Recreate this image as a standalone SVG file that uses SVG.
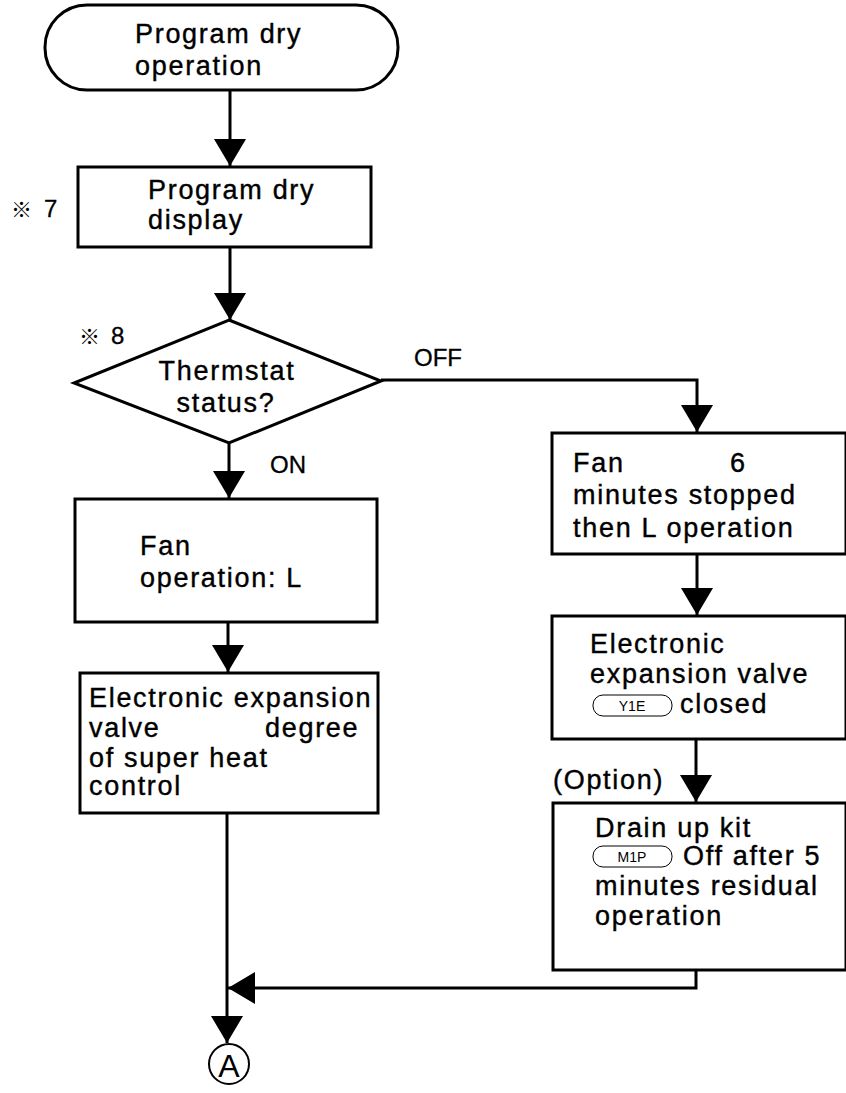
<svg xmlns="http://www.w3.org/2000/svg" width="846" height="1093" viewBox="0 0 846 1093">
<style>
.t{font-family:"Liberation Sans",Arial,sans-serif;font-size:27px;letter-spacing:1.7px;fill:#000;stroke:#000;stroke-width:0.4}
.n{font-family:"Liberation Sans",Arial,sans-serif;font-size:24px;fill:#000;stroke:#000;stroke-width:0.3}
.k{font-family:"Noto Sans CJK JP",sans-serif;font-size:21px;fill:#000}
.s{fill:#fff;stroke:#000;stroke-width:3}
.c{fill:none;stroke:#000;stroke-width:3}
.p{fill:#fff;stroke:#000;stroke-width:1}
.pt{font-family:"Liberation Sans",Arial,sans-serif;font-size:14px;fill:#000;text-anchor:middle}
</style>
<defs>
<marker id="ah" viewBox="0 0 27 32" refX="27" refY="16" markerWidth="27" markerHeight="32" markerUnits="userSpaceOnUse" orient="auto">
<path d="M0,0 L27,16 L0,32 Z" fill="#000"/>
</marker>
</defs>
<g id="connectors">
<path class="c" d="M230,90 V166" marker-end="url(#ah)"/>
<path class="c" d="M230,247 V320" marker-end="url(#ah)"/>
<path class="c" d="M229,443 V498" marker-end="url(#ah)"/>
<path class="c" d="M228,622 V672" marker-end="url(#ah)"/>
<path class="c" d="M381,380 H697 V432" marker-end="url(#ah)"/>
<path class="c" d="M697,554 V615" marker-end="url(#ah)"/>
<path class="c" d="M696,739 V802" marker-end="url(#ah)"/>
<path class="c" d="M696,970 V988 H228" marker-end="url(#ah)"/>
<path class="c" d="M227,813 V1043" marker-end="url(#ah)"/>
</g>
<g id="start">
<rect class="s" x="45" y="5" width="353" height="85" rx="42" ry="42"/>
<text class="t" x="135" y="43">Program dry</text>
<text class="t" x="135" y="75">operation</text>
</g>
<g id="display">
<rect class="s" x="78" y="167" width="293" height="80"/>
<text class="t" x="148" y="199">Program dry</text>
<text class="t" x="148" y="229">display</text>
<text class="k" x="11" y="217">※</text>
<text class="n" x="44" y="217">7</text>
</g>
<g id="thermostat">
<polygon class="s" points="229,320 381,381 229,443 74,383"/>
<text class="t" x="227" y="380" text-anchor="middle">Thermstat</text>
<text class="t" x="226" y="412" text-anchor="middle">status?</text>
<text class="k" x="79" y="344">※</text>
<text class="n" x="111" y="344">8</text>
<text class="n" x="414" y="366">OFF</text>
<text class="n" x="270" y="473">ON</text>
</g>
<g id="fan-l">
<rect class="s" x="75" y="499" width="302" height="123"/>
<text class="t" x="140" y="555">Fan</text>
<text class="t" x="140" y="587">operation: L</text>
</g>
<g id="superheat">
<rect class="s" x="80" y="673" width="298" height="140"/>
<text class="t" x="89" y="707">Electronic expansion</text>
<text class="t" x="89" y="737">valve</text>
<text class="t" x="265" y="737">degree</text>
<text class="t" x="89" y="767">of super heat</text>
<text class="t" x="89" y="795">control</text>
</g>
<g id="fan-stop">
<rect class="s" x="552" y="433" width="294" height="121"/>
<text class="t" x="573" y="472">Fan</text>
<text class="t" x="730" y="472">6</text>
<text class="t" x="573" y="504">minutes stopped</text>
<text class="t" x="573" y="537">then L operation</text>
</g>
<g id="valve-closed">
<rect class="s" x="552" y="616" width="294" height="123"/>
<text class="t" x="590" y="653">Electronic</text>
<text class="t" x="590" y="683">expansion valve</text>
<rect class="p" x="593" y="695" width="79" height="21" rx="10" ry="10"/>
<text class="pt" x="632" y="711">Y1E</text>
<text class="t" x="680" y="713">closed</text>
</g>
<g id="drain">
<text class="t" x="553" y="789">(Option)</text>
<rect class="s" x="553" y="803" width="293" height="167"/>
<text class="t" x="595" y="837">Drain up kit</text>
<rect class="p" x="593" y="846" width="79" height="21" rx="10" ry="10"/>
<text class="pt" x="632" y="862">M1P</text>
<text class="t" x="683" y="865">Off after 5</text>
<text class="t" x="595" y="895">minutes residual</text>
<text class="t" x="595" y="925">operation</text>
</g>
<g id="connector-a">
<circle cx="229" cy="1064" r="20" fill="#fff" stroke="#000" stroke-width="2"/>
<text x="229" y="1077" text-anchor="middle" font-family="Liberation Sans,Arial,sans-serif" font-size="32" fill="#000">A</text>
</g>
</svg>
